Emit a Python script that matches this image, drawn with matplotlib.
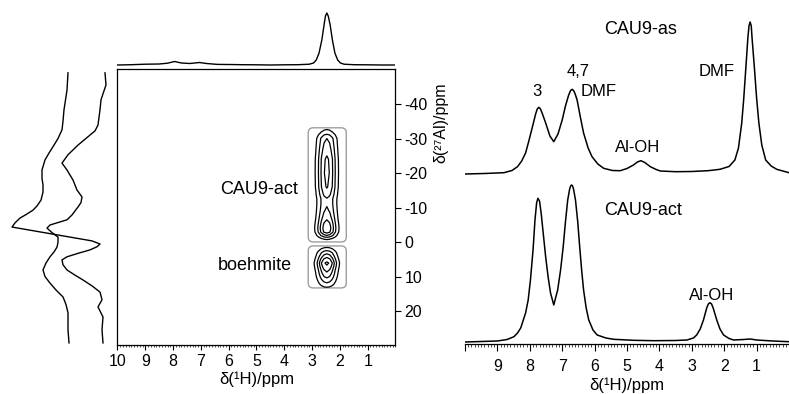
import numpy as np
import matplotlib
matplotlib.use('Agg')
import matplotlib.pyplot as plt
from matplotlib.patches import FancyBboxPatch
from matplotlib.ticker import MultipleLocator

plt.rcParams['font.family'] = ['Liberation Sans', 'DejaVu Sans']
plt.rcParams['axes.unicode_minus'] = False

# 1H MAS spectrum, CAU9-as (ppm, intensity)
as_ppm = [10.0, 9.4, 8.8, 8.55, 8.38, 8.25, 8.13, 8.03, 7.92, 7.82, 7.77, 7.72, 7.67, 7.62,
          7.51, 7.38, 7.26, 7.13, 7.0, 6.9, 6.8, 6.74, 6.69, 6.64, 6.6, 6.54, 6.44, 6.34,
          6.2, 6.08, 5.9, 5.72, 5.45, 5.21, 5.0, 4.8, 4.68, 4.57, 4.45, 4.28, 4.1, 3.97,
          3.5, 3.0, 2.5, 2.13, 1.85, 1.67, 1.56, 1.46, 1.4, 1.33, 1.27, 1.235, 1.2, 1.165,
          1.14, 1.07, 1.0, 0.93, 0.84, 0.72, 0.55, 0.38, 0.0]
as_int = [0, 0.5, 1.3, 3.5, 7.3, 13, 21, 33, 47, 60, 65, 66.7, 65, 61,
          51, 38, 32.3, 40, 54, 68, 79, 83.5, 84.7, 83, 80, 74, 57, 41,
          26, 17.3, 10, 5.7, 3.5, 3.3, 5.5, 9, 12, 13.3, 11.5, 7.3, 4.5, 3,
          2.3, 2.5, 3.3, 4.7, 7.5, 14, 26, 50.7, 74, 107, 136, 148, 152, 148,
          136, 107, 76, 51, 29, 14, 8, 4.7, 1.3]

# 1H MAS spectrum, CAU9-act
act_ppm = [10.0, 9.0, 8.7, 8.49, 8.38, 8.28, 8.13, 8.05, 7.98, 7.9, 7.84, 7.79, 7.75, 7.7,
           7.65, 7.58, 7.51, 7.43, 7.36, 7.26, 7.14, 7.05, 6.97, 6.9, 6.83, 6.77, 6.74,
           6.71, 6.68, 6.65, 6.59, 6.52, 6.46, 6.4, 6.34, 6.26, 6.18, 6.05, 5.92, 5.65,
           5.41, 4.8, 4.18, 3.5, 3.15, 2.95, 2.85, 2.74, 2.64, 2.54, 2.49, 2.44, 2.39,
           2.34, 2.23, 2.13, 2.02, 1.85, 1.71, 1.4, 1.2, 1.0, 0.5, 0.0]
act_int = [0, 1, 2.5, 5.3, 9, 14, 29, 42, 62, 92, 122, 139, 143.7, 141,
           129, 107, 85, 64, 49, 37, 52, 72, 95, 120, 142, 153, 156,
           157, 156, 153, 142, 120, 95, 72, 52, 34, 22, 12, 7, 4,
           2.7, 1.7, 1.3, 1.5, 2, 4, 7, 13, 22, 34, 38, 39.3, 38,
           34, 22, 13, 7, 3.5, 2, 2.5, 3, 2, 1, 0.3]

# 1H projection above the 2D map
proj_h_ppm = [10.0, 9.5, 9.0, 8.5, 8.2, 7.95, 7.7, 7.4, 7.05, 6.8, 6.4, 6.0, 5.5, 5.0, 4.5,
              4.0, 3.5, 3.1, 2.95, 2.85, 2.75, 2.65, 2.57, 2.52, 2.47, 2.42, 2.35, 2.27,
              2.18, 2.08, 1.98, 1.85, 1.5, 1.0, 0.5, 0.0]
proj_h_int = [0, 0.3, 0.8, 1.0, 1.8, 3.5, 2.0, 1.5, 2.5, 1.5, 0.6, 0.5, 0.3, 0.2, 0,
              0.2, 0.3, 0.8, 2, 5, 12, 25, 40, 49, 52, 49, 40, 25,
              12, 5, 2, 0.8, 0.3, 0.2, 0, 0]

# 27Al projections on the left (two traces)
al1_ppm = [-49.0, -44.0, -38.3, -35.0, -32.5, -30.0, -28.1, -25.8, -23.8, -20.9, -18.5, -16.6,
           -14.5, -12.2, -10.5, -9.3, -8.0, -7.0, -5.6, -4.4, -3.0, -1.5, -0.4, 0.5, 1.3,
           2.2, 3.2, 4.2, 5.1, 6.5, 8.0, 9.5, 10.9, 12.6, 14.4, 16.6, 18.7, 21.6, 25.3, 29.1]
al1_int = [44, 45, 48, 49, 50, 54, 58, 63, 67, 70, 70, 69,
           69, 71, 75, 79, 86, 92, 97, 100, 72, 42, 20, 12, 15,
           22, 34, 45, 50, 49, 45, 37, 29, 20, 12, 10, 14, 9, 10, 9]
al2_ppm = [-49.0, -45.5, -41.2, -38.3, -33.9, -32.2, -31.0, -28.1, -25.3, -22.9, -20.9, -18.0,
           -15.1, -13.1, -11.5, -10.2, -7.9, -6.5, -5.0, -4.1, -2.8, -1.5, 0.0, 1.4, 2.8,
           4.2, 6.0, 8.0, 9.9, 11.8, 13.8, 15.8, 18.0, 20.4, 25.3, 29.1]
al2_int = [7, 6, 11, 12, 14, 17, 22, 34, 44, 50, 45, 39,
           35, 30, 31, 34, 40, 45, 62, 65, 60, 54, 54, 55, 58,
           62, 66, 69, 67, 62, 56, 49, 46, 44, 44, 43]

# 2D map: intensity along 27Al and 1H through the correlation ridge
ridge_al_ppm = [-50, -36, -34, -33, -32, -31, -30, -27, -24, -20, -16, -14, -12.5, -11, -9,
                -7, -5, -4, -3, -2, -1, 0, 1, 2, 3, 4, 5, 6, 7, 8, 9, 10, 11, 12, 13,
                14, 16, 30]
ridge_al_int = [0, 0, 0.3, 0.8, 1.3, 2.2, 3.0, 3.6, 4.2, 4.3, 4.1, 3.5, 2.9, 2.9, 3.2,
                3.8, 4.6, 4.8, 4.5, 3.0, 1.2, 0.3, 0.5, 1.5, 2.7, 3.6, 4.6, 5.5, 5.0, 4.3,
                3.8, 3.2, 2.5, 1.8, 1.0, 0.3, 0, 0]
ridge_h_ppm = [1.4, 1.67, 1.77, 1.87, 1.97, 2.07, 2.17, 2.27, 2.37, 2.47, 2.57, 2.67, 2.77,
               2.87, 2.97, 3.07, 3.17, 3.27, 3.5]
ridge_h_int = [0, 0.005, 0.017, 0.05, 0.125, 0.26, 0.47, 0.72, 0.92, 1.0, 0.92, 0.72, 0.47,
               0.26, 0.125, 0.05, 0.017, 0.005, 0]
contour_levels = [1.0, 2.0, 3.0, 4.0, 5.2]

W, H = 789, 394
fig = plt.figure(figsize=(W / 100, H / 100), dpi=100)


def px_box(x0, y0, x1, y1):
    return [x0 / W, 1 - y1 / H, (x1 - x0) / W, (y1 - y0) / H]


def px_text(x, y, s, **kw):
    fig.text(x / W, 1 - y / H, s, ha='center', va='center', **kw)


# ---- 2D map ----
ax2d = fig.add_axes(px_box(117.5, 69, 395.5, 345))
ax2d.set_xlim(10, 0)
ax2d.set_ylim(29.7, -50.1)
Z = np.outer(ridge_al_int, ridge_h_int)
ax2d.contour(ridge_h_ppm, ridge_al_ppm, Z, levels=contour_levels, colors='k', linewidths=0.9)

aspect = 27.7 / 3.458
for (h0, h1, a0, a1) in [(1.77, 3.14, -33.1, -0.1), (1.77, 3.14, 1.06, 13.2)]:
    ax2d.add_patch(FancyBboxPatch((h0, a0), h1 - h0, a1 - a0,
                                  boxstyle='round,pad=0,rounding_size=0.18',
                                  mutation_aspect=aspect, fc='none', ec='0.62', lw=1.0))

ax2d.set_xticks(range(10, 0, -1))
ax2d.xaxis.set_minor_locator(MultipleLocator(0.1))
ax2d.tick_params(axis='x', which='major', direction='out', length=3.5, width=0.8, pad=3,
                 labelsize=11.5)
ax2d.tick_params(axis='x', which='minor', direction='out', length=1.5, width=0.5)
ax2d.yaxis.tick_right()
ax2d.set_yticks([-40, -30, -20, -10, 0, 10, 20])
ax2d.tick_params(axis='y', which='major', direction='out', length=4.5, width=0.8, pad=2,
                 labelsize=11.5)
for s in ax2d.spines.values():
    s.set_linewidth(0.9)
ax2d.set_xlabel('δ(¹H)/ppm', fontsize=12, labelpad=2)
px_text(441, 123, 'δ(²⁷Al)/ppm', fontsize=11.5, rotation=90)
px_text(259, 190, 'CAU9-act', fontsize=13)
px_text(255, 266, 'boehmite', fontsize=13)

# ---- 1H projection on top ----
axt = fig.add_axes(px_box(117.5, 0, 395.5, 69))
axt.plot(proj_h_ppm, proj_h_int, color='k', lw=1.0)
axt.set_xlim(10, 0)
axt.set_ylim(-4, 65)
axt.axis('off')

# ---- 27Al projections on the left ----
axl = fig.add_axes(px_box(0, 69, 112, 345))
axl.plot(al1_int, al1_ppm, color='k', lw=1.0)
axl.plot(al2_int, al2_ppm, color='k', lw=1.0)
axl.set_xlim(112, 0)
axl.set_ylim(29.7, -50.1)
axl.axis('off')

# ---- 1D 1H spectra ----
axr = fig.add_axes(px_box(465, 10, 789, 344))
axr.plot(as_ppm, np.array(as_int) + 168, color='k', lw=1.1)
axr.plot(act_ppm, act_int, color='k', lw=1.1)
axr.set_xlim(10, 0)
axr.set_ylim(-2, 332)
for side in ['top', 'left', 'right']:
    axr.spines[side].set_visible(False)
axr.spines['bottom'].set_linewidth(0.9)
axr.set_yticks([])
axr.set_xticks(range(10, 0, -1))
axr.set_xticklabels([''] + [str(i) for i in range(9, 0, -1)])
axr.xaxis.set_minor_locator(MultipleLocator(0.1))
axr.tick_params(axis='x', which='major', direction='out', length=5, width=0.8, pad=6,
                labelsize=11.5)
axr.tick_params(axis='x', which='minor', direction='out', length=2.5, width=0.5)
axr.set_xlabel('δ(¹H)/ppm', fontsize=12, labelpad=2)

px_text(641, 30, 'CAU9-as', fontsize=13)
px_text(578, 71, '4,7', fontsize=12)
px_text(537, 91, '3', fontsize=12)
px_text(599, 91, 'DMF', fontsize=12)
px_text(638, 148, 'Al-OH', fontsize=12)
px_text(717, 71, 'DMF', fontsize=12)
px_text(643, 210, 'CAU9-act', fontsize=13)
px_text(712, 295, 'Al-OH', fontsize=12)

fig.savefig('out.png', dpi=100)
